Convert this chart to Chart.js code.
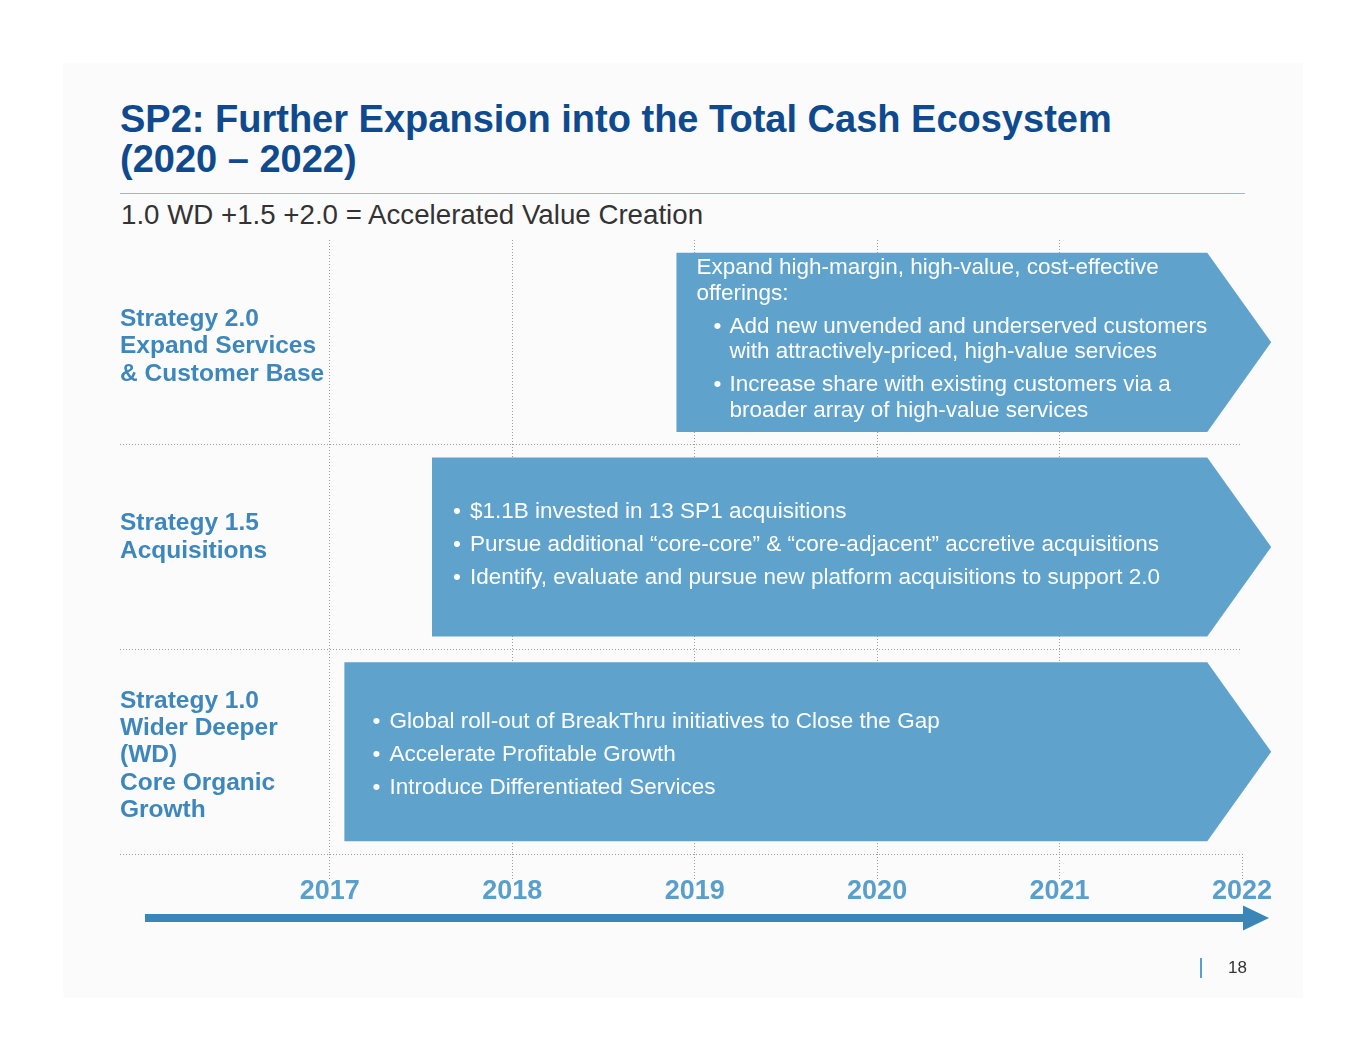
<!DOCTYPE html>
<html>
<head>
<meta charset="utf-8">
<script src="https://cdn.jsdelivr.net/npm/chart.js@4.4.0/dist/chart.umd.min.js"></script>
<style>
html,body{margin:0;padding:0;background:#fff;width:1365px;height:1055px;overflow:hidden;font-family:"Liberation Sans",Arial,sans-serif;}
#panel{position:absolute;left:63px;top:63px;width:1240px;height:935px;background:#fbfbfb;}
#title{position:absolute;left:120px;top:99px;margin:0;font-weight:bold;font-size:38px;line-height:40px;color:#0f4a8e;white-space:nowrap;}
#rule{position:absolute;left:120px;top:193px;width:1125px;height:1px;background:#9db6ca;}
#subtitle{position:absolute;left:121px;top:200px;font-size:27.7px;line-height:30px;color:#333;white-space:nowrap;}
#pagebar{position:absolute;left:1200px;top:958px;width:2px;height:20px;background:#5a9fcb;}
#pagenum{position:absolute;left:1228px;top:958px;font-size:17px;line-height:20px;color:#333;}
#c{position:absolute;left:0;top:0;}
</style>
</head>
<body>
<div id="panel"></div>
<div id="title">SP2: Further Expansion into the Total Cash Ecosystem<br>(2020 – 2022)</div>
<div id="rule"></div>
<div id="subtitle">1.0 WD +1.5 +2.0 = Accelerated Value Creation</div>
<canvas id="c" width="1365" height="1055"></canvas>
<div id="pagebar"></div>
<div id="pagenum">18</div>
<script>
// ---- data ----
const rowLabels = [
  ['Strategy 2.0', 'Expand Services', '& Customer Base'],
  ['Strategy 1.5', 'Acquisitions', ''],
  ['Strategy 1.0', 'Wider Deeper', '(WD)', 'Core Organic', 'Growth']
];
const startYears = [2018.9, 2017.56, 2017.08];
const endYears = [2022.16, 2022.16, 2022.16];
const tickYears = [2017, 2018, 2019, 2020, 2021, 2022];
const axisMin = 2015.85;
const axisMax = 2022;
const barTexts = [
  [
    ['Expand high-margin, high-value, cost-effective', 'offerings:'],
    ['• Add new unvended and underserved customers', 'with attractively-priced, high-value services'],
    ['• Increase share with existing customers via a', 'broader array of high-value services']
  ],
  [
    ['• $1.1B invested in 13 SP1 acquisitions'],
    ['• Pursue additional “core-core” & “core-adjacent” accretive acquisitions'],
    ['• Identify, evaluate and pursue new platform acquisitions to support 2.0']
  ],
  [
    ['• Global roll-out of BreakThru initiatives to Close the Gap'],
    ['• Accelerate Profitable Growth'],
    ['• Introduce Differentiated Services']
  ]
];

// ---- styles ----
const FONT = '"Liberation Sans", Arial, sans-serif';
const BAR_COLOR = '#5fa3cd';
const LABEL_COLOR = '#3e87bd';
const GRID_COLOR = '#9d9d9d';
const textIndent = [
  {plain: 20, bullet: 37, text: 53, dy: -3},
  {plain: 21, bullet: 21, text: 38, dy: -2},
  {plain: 28, bullet: 28, text: 45, dy: 3}
];
const LINE_H = 25.5, PARA_GAP = 7.5;

const chevronPlugin = {
  id: 'chevron',
  beforeDatasetDraw(chart, args) {
    const ctx = chart.ctx;
    ctx.save();
    args.meta.data.forEach((bar, i) => {
      const p = bar.getProps(['x', 'y', 'base', 'height'], true);
      const top = p.y - p.height / 2, bot = p.y + p.height / 2;
      const depth = p.height * 0.357;
      ctx.fillStyle = BAR_COLOR;
      ctx.beginPath();
      ctx.moveTo(p.base, top);
      ctx.lineTo(p.x - depth, top);
      ctx.lineTo(p.x, p.y);
      ctx.lineTo(p.x - depth, bot);
      ctx.lineTo(p.base, bot);
      ctx.closePath();
      ctx.fill();

      // text
      const paras = barTexts[i];
      const ind = textIndent[i];
      let total = 0;
      paras.forEach((para, k) => { total += (para.length - 1) * LINE_H; if (k > 0) total += LINE_H + PARA_GAP; });
      let yy = p.y - total / 2 + ind.dy;
      ctx.fillStyle = '#ffffff';
      ctx.font = '22.5px ' + FONT;
      ctx.textBaseline = 'middle';
      ctx.textAlign = 'left';
      paras.forEach((para, k) => {
        if (k > 0) yy += LINE_H + PARA_GAP;
        para.forEach((line, j) => {
          if (j > 0) yy += LINE_H;
          if (line.startsWith('• ')) {
            ctx.fillText('•', p.base + ind.bullet, yy);
            ctx.fillText(line.slice(2), p.base + ind.text, yy);
          } else {
            const bulleted = para[0].startsWith('• ');
            ctx.fillText(line, p.base + (bulleted ? ind.text : ind.plain), yy);
          }
        });
      });
    });
    ctx.restore();
    return false;
  },
  afterDraw(chart) {
    const ctx = chart.ctx, area = chart.chartArea, xs = chart.scales.x;
    const y0 = area.bottom + 64;
    const x0 = area.left + 25;
    const xEnd = xs.getPixelForValue(axisMax) + 1;
    ctx.save();
    ctx.fillStyle = '#3b86b9';
    ctx.fillRect(x0, y0 - 4, xEnd - x0, 8);
    ctx.beginPath();
    ctx.moveTo(xEnd, y0 - 12.5);
    ctx.lineTo(xEnd + 26, y0);
    ctx.lineTo(xEnd, y0 + 12.5);
    ctx.closePath();
    ctx.fill();
    ctx.restore();
  }
};

new Chart(document.getElementById('c'), {
  type: 'bar',
  data: {
    labels: rowLabels,
    datasets: [{
      data: startYears.map((s, i) => [s, endYears[i]]),
      backgroundColor: BAR_COLOR,
      categoryPercentage: 1,
      barPercentage: 0.875,
      clip: false
    }]
  },
  options: {
    indexAxis: 'y',
    responsive: false,
    animation: false,
    events: [],
    layout: {padding: {left: 120, right: 123, top: 240, bottom: 141}},
    plugins: {legend: {display: false}, tooltip: {enabled: false}, title: {display: false}},
    scales: {
      x: {
        type: 'linear',
        min: axisMin,
        max: axisMax,
        afterBuildTicks: (scale) => { scale.ticks = tickYears.map(v => ({value: v})); },
        afterFit: (scale) => { scale.height = 60; },
        border: {display: false, dash: [1, 2]},
        grid: {
          color: (c) => (c.tick && c.tick.value === axisMax) ? 'rgba(0,0,0,0)' : GRID_COLOR,
          lineWidth: 1,
          drawTicks: true,
          tickLength: 26,
          tickColor: GRID_COLOR,
          tickBorderDash: [1, 2]
        },
        ticks: {
          callback: (v) => String(v),
          color: '#5a9fcb',
          font: {family: FONT, size: 27, weight: 'bold', lineHeight: 1},
          padding: -2,
          maxRotation: 0,
          autoSkip: false
        }
      },
      y: {
        type: 'category',
        afterFit: (scale) => { scale.width = 0; },
        border: {display: false, dash: [1, 2]},
        grid: {
          offset: true,
          color: (c) => c.index === 0 ? 'rgba(0,0,0,0)' : GRID_COLOR,
          lineWidth: 1,
          drawTicks: false
        },
        ticks: {
          mirror: true,
          padding: 0,
          labelOffset: 4,
          color: LABEL_COLOR,
          font: {family: FONT, size: 24.5, weight: 'bold', lineHeight: 1.12}
        }
      }
    }
  },
  plugins: [chevronPlugin]
});
</script>
</body>
</html>
